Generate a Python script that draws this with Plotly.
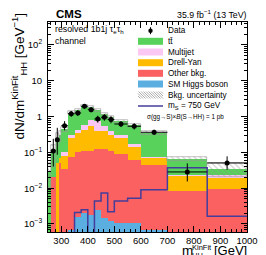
import numpy as np
import plotly.graph_objects as go

# ---------------- data ----------------
edges = [250, 260, 280, 290, 300, 325, 350, 375, 400, 425, 450, 475, 500, 550, 600, 700, 850, 1000]

sm_higgs = [0, 0, 0, 0, 0.0002, 0.0007, 0.0016, 0.002, 0.0018, 0.0025, 0.0015, 0.0012, 0.0011, 0.0011, 0.0007, 0.0003, 0.0003]
other_bkg = [0, 0.02, 0, 0.05, 0.035, 0.075, 0.098, 0.108, 0.108, 0.122, 0.124, 0.109, 0.089, 0.059, 0.044, 0.0079, 0.0094]
drell_yan = [0, 0, 0.05, 0.02, 0.045, 0.184, 0.25, 0.32, 0.43, 0.265, 0.265, 0.19, 0.16, 0.09, 0.025, 0.0142, 0.0096]
multijet = [0, 0, 0, 0, 0.02, 0.05, 0.08, 0.14, 0.25, 0.35, 0.15, 0.1, 0.05, 0.02, 0.005, 0.0011, 0.0036]
ttbar = [0.03, 0.08, 0.2, 0.23, 0.35, 0.99, 1.07, 1.43, 1.11, 0.76, 0.66, 0.55, 0.44, 0.4, 0.275, 0.0425, 0.0121]
bkg_unc = [0.02, 0.06, 0.1, 0.1, 0.07, 0.1, 0.12, 0.14, 0.13, 0.12, 0.1, 0.09, 0.07, 0.06, 0.04, 0.007, 0.015]

signal_750 = [0, 0, 0, 0, 0, 0, 0.0021, 0.0025, 0, 0.0044, 0.0073, 0.0022, 0.0044, 0.0052, 0.009, 0.037, 0.00165]

data_bins = [1, 2, 4, 5, 6, 7, 8, 9, 10, 11, 12, 13, 14, 15, 16]  # indices of bins with data
data_y = [0.11, 0.226, 0.557, 1.2, 1.26, 1.94, 1.56, 0.857, 0.955, 0.83, 0.62, 0.536, 0.364, 0.0284, 0.0506]
data_err_hi = [0.13, 0.26, 0.19, 0.24, 0.24, 0.3, 0.27, 0.2, 0.21, 0.2, 0.12, 0.11, 0.065, 0.021, 0.027]
data_err_lo = [0.07, 0.14, 0.145, 0.215, 0.22, 0.275, 0.245, 0.18, 0.19, 0.18, 0.11, 0.1, 0.058, 0.013, 0.018]

ytick_vals = [1e-3, 1e-2, 1e-1, 1, 10, 100]
ytick_text = ["10<sup>\u22123</sup>", "10<sup>\u22122</sup>", "10<sup>\u22121</sup>", "1", "10", "10<sup>2</sup>"]
xtick_vals = [300, 400, 500, 600, 700, 800, 900, 1000]

# ---------------- styling ----------------
C_TT = "#58d25a"
C_MJ = "#fbc8f4"
C_DY = "#ffbb00"
C_OT = "#fb6161"
C_H = "#5aaee0"
C_SIG = "#453d9b"
FONT = "Liberation Sans"

W, H = 266, 255
ML, MR, MT, MB = 40, 27, 14, 31
PW, PH = W - ML - MR, H - MT - MB
YMIN, YMAX = -3.224, 2.642


def px(x):
    return (x - ML) / PW


def py(y):
    return (MT + PH - y) / PH


e = np.array(edges, dtype=float)
centers = (e[:-1] + e[1:]) / 2
widths = e[1:] - e[:-1]

comps = [(sm_higgs, C_H), (other_bkg, C_OT), (drell_yan, C_DY), (multijet, C_MJ), (ttbar, C_TT)]
fig = go.Figure()
base = np.full(len(centers), 1e-7)
for vals, col in comps:
    v = np.array(vals, dtype=float)
    fig.add_trace(go.Bar(x=centers, y=v, base=base, width=widths,
                         marker=dict(color=col, line=dict(width=0)), showlegend=False))
    base = base + v

total = base
unc = np.array(bkg_unc)
fig.add_trace(go.Bar(x=centers, y=2 * unc, base=total - unc, width=widths,
                     marker=dict(color="rgba(0,0,0,0)",
                                 line=dict(width=0.6, color="#9a9a9a"),
                                 pattern=dict(shape="\\", fgcolor="#8a8a8a", bgcolor="rgba(0,0,0,0)",
                                              size=4, solidity=0.25)),
                     showlegend=False))

# signal outline
sig = np.array(signal_750, dtype=float)
sig_plot = np.where(sig > 0, sig, 1e-7)
fig.add_trace(go.Scatter(x=e, y=np.append(sig_plot, sig_plot[-1]), mode="lines",
                         line=dict(shape="hv", color=C_SIG, width=1.5), showlegend=False))

# data
di = np.array(data_bins)
fig.add_trace(go.Scatter(x=centers[di], y=data_y, mode="markers",
                         marker=dict(color="black", size=5),
                         error_y=dict(type="data", array=data_err_hi, arrayminus=data_err_lo,
                                      color="black", thickness=1, width=0),
                         error_x=dict(type="data", array=widths[di] / 2, color="black",
                                      thickness=1, width=0),
                         showlegend=False))

# ---------------- annotations / legend ----------------
ann = []
shapes = []


def text(x, y, s, size, xanchor="left", yanchor="middle", angle=0):
    ann.append(dict(x=px(x), y=py(y), xref="paper", yref="paper", text=s, showarrow=False,
                    xanchor=xanchor, yanchor=yanchor, textangle=angle, borderpad=0,
                    font=dict(family=FONT, size=size, color="black")))


text(46.5, 6, "<b>CMS</b>", 11.5)
text(239.5, 6.5, "35.9 fb<sup>\u22121</sup> (13 TeV)", 8.8, xanchor="right")
text(45.5, 22, "resolved 1b1j \u03c4<sub>e</sub>\u03c4<sub>h</sub>", 8.8)
text(45.5, 33, "channel", 8.8)

# legend
bx0, bx1 = 130, 155
tx = 159
ly = {"data": 22.7, "tt": 33.3, "mj": 44, "dy": 54.7, "ot": 65.3, "h": 76, "unc": 87, "sig": 98, "xs": 108.7}
# data symbol
shapes.append(dict(type="line", xref="paper", yref="paper", x0=px(142.5), x1=px(142.5),
                   y0=py(ly["data"] - 3.5), y1=py(ly["data"] + 3.5), line=dict(color="black", width=1)))
shapes.append(dict(type="circle", xref="paper", yref="paper", x0=px(140.3), x1=px(144.7),
                   y0=py(ly["data"] - 2.2), y1=py(ly["data"] + 2.2), fillcolor="black",
                   line=dict(color="black", width=0)))
text(tx, ly["data"], "Data", 8.2)
for key, col, lab in [("tt", C_TT, "tt\u0304"), ("mj", C_MJ, "Multijet"), ("dy", C_DY, "Drell-Yan"),
                      ("ot", C_OT, "Other bkg."), ("h", C_H, "SM Higgs boson")]:
    shapes.append(dict(type="rect", xref="paper", yref="paper", x0=px(bx0), x1=px(bx1),
                       y0=py(ly[key] - 3.5), y1=py(ly[key] + 3.5), fillcolor=col,
                       line=dict(width=0)))
    text(tx, ly[key], lab, 8.2)
# uncertainty swatch with hatch
yt, yb = ly["unc"] - 3.5, ly["unc"] + 3.5
hh = yb - yt
x = bx0 - hh
while x < bx1:
    xa, ya = x, yt
    xb, yb2 = x + hh, yb
    if xa < bx0:
        ya = yt + (bx0 - xa)
        xa = bx0
    if xb > bx1:
        yb2 = yb - (xb - bx1)
        xb = bx1
    if xb > xa:
        shapes.append(dict(type="line", xref="paper", yref="paper", x0=px(xa), y0=py(ya),
                           x1=px(xb), y1=py(yb2), line=dict(color="#8a8a8a", width=0.7)))
    x += 2.5
text(tx, ly["unc"], "Bkg. uncertainty", 8.2)
shapes.append(dict(type="line", xref="paper", yref="paper", x0=px(bx0), x1=px(bx1),
                   y0=py(ly["sig"]), y1=py(ly["sig"]), line=dict(color=C_SIG, width=1.5)))
text(tx, ly["sig"], "m<sub>S</sub> = 750 GeV", 8.2)
text(138, ly["xs"], "\u03c3(gg\u2192S)\u00d7<i>B</i>(S\u2192HH) = 1 pb", 6.3)

# x-axis title, stacked super/subscript as in the original
text(172.5, 242.5, "m", 13.5)
text(183.3, 239, "KinFit", 7.5)
text(183.3, 247.8, "HH", 7.5)
text(239.5, 243, "[GeV]", 13, xanchor="right")
# y-axis title
text(12, 4, "dN/dm<sup>KinFit</sup><sub>HH</sub> [GeV<sup>\u22121</sup>]", 13.5,
     xanchor="center", yanchor="top", angle=-90)

minor_y = [k * 10.0 ** d for d in range(-4, 3) for k in range(2, 10)]

fig.update_layout(
    width=W, height=H,
    margin=dict(l=ML, r=MR, t=MT, b=MB, pad=0),
    barmode="overlay", bargap=0,
    plot_bgcolor="white", paper_bgcolor="white",
    showlegend=False,
    annotations=ann, shapes=shapes,
    font=dict(family=FONT, color="black"),
    xaxis=dict(range=[250, 1000], tickmode="array", tickvals=xtick_vals,
               ticks="inside", ticklen=6, tickwidth=1, tickcolor="black",
               showline=True, linecolor="black", linewidth=1, mirror="ticks",
               showgrid=False, zeroline=False,
               tickfont=dict(family=FONT, size=9.5, color="black"),
               minor=dict(ticks="inside", ticklen=3, tickcolor="black", tick0=300, dtick=20,
                          showgrid=False)),
    yaxis=dict(type="log", range=[YMIN, YMAX], tickmode="array", tickvals=ytick_vals,
               ticktext=ytick_text,
               ticks="inside", ticklen=6, tickwidth=1, tickcolor="black",
               showline=True, linecolor="black", linewidth=1, mirror="ticks",
               showgrid=False, zeroline=False, ticklabelstandoff=3,
               tickfont=dict(family=FONT, size=9.5, color="black"),
               minor=dict(ticks="inside", ticklen=3, tickcolor="black", tickmode="array",
                          tickvals=minor_y, showgrid=False)),
)

fig.write_html("out.html")
